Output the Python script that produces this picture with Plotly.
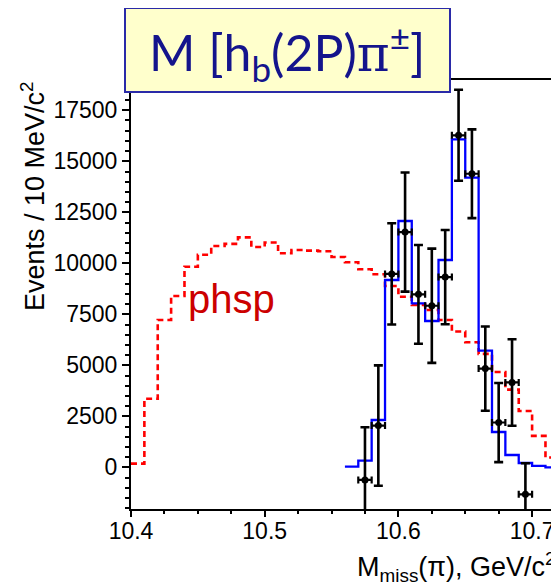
import plotly.graph_objects as go

# ---------------- data ----------------
phsp_edges_start = 10.40
bin_width = 0.01
phsp_values = [180, 3360, 7220, 8400, 9830, 10420, 10850, 10950, 11270, 10800,
               11020, 10490, 10650, 10620, 10590, 10310, 10050, 9706, 9460, 8890,
               8360, 7960, 7710, 7220, 6660, 6130, 5560, 4670, 3810, 2760,
               1540, 480]

fit_edges_start = 10.56
fit_values = [30, 323, 2318, 9181, 12074, 8039, 7172, 10162, 16078, 14196,
              5716, 1730, 603, 210, 70, 0]

data_x = [10.575, 10.585, 10.595, 10.605, 10.615, 10.625, 10.635, 10.645,
          10.655, 10.665, 10.675, 10.685, 10.695]
data_y = [-620, 2045, 9480, 11530, 8480, 7920, 9325, 16275, 14390, 4840,
          2195, 4160, -1324]
data_err = [2580, 2950, 2480, 2920, 2420, 2800, 2310, 2230, 2175, 2065,
            1940, 2120, 1520]

y_ticks = [0, 2500, 5000, 7500, 10000, 12500, 15000, 17500]
y_ticktext = [str(v) for v in y_ticks]
x_ticks = [10.4, 10.5, 10.6, 10.7]
x_ticktext = [f"{v:.1f}" for v in x_ticks]

# minor tick positions (axis decoration)
x_minor = [round(10.4 + 0.025 * i, 4) for i in range(0, 14)]
y_minor = [-2000 + 500 * i for i in range(0, 43)]

# ---------------- layout geometry (pixels) ----------------
# the page body has an 8px margin, so the figure starts at screen (8, 8)
OX, OY = 8, 8
W_FIG, H_FIG = 559 - OX, 585 - OY
L, R, T = 131 - OX, 0, 79 - OY
B = H_FIG - (509 - OY)
PW = W_FIG - L - R
PH = H_FIG - T - B

X_RANGE = [10.4, 10.4 + PW / 1337.0]
Y_RANGE = [-2044, 19034]


def pxx(sx):
    return (sx - OX - L) / PW


def pxy(sy):
    return (H_FIG - B - (sy - OY)) / PH


def step_xy(start, values):
    xs = [round(start + i * bin_width, 4) for i in range(len(values) + 1)]
    ys = list(values) + [values[-1]]
    return xs, ys


fig = go.Figure()

px_, py_ = step_xy(phsp_edges_start, phsp_values)
fig.add_trace(go.Scatter(x=px_, y=py_, mode="lines", line_shape="hv",
                         line=dict(color="#ff0000", width=2.6, dash="6px,4px"),
                         hoverinfo="skip", showlegend=False))

fx_, fy_ = step_xy(fit_edges_start, fit_values)
fx_[-1] = fx_[-1] + 0.02
fig.add_trace(go.Scatter(x=fx_, y=fy_, mode="lines", line_shape="hv",
                         line=dict(color="#0000ff", width=2.3),
                         hoverinfo="skip", showlegend=False))

fig.add_trace(go.Scatter(
    x=data_x, y=data_y, mode="markers",
    marker=dict(color="black", size=7, symbol="circle"),
    error_y=dict(type="data", array=data_err, visible=True,
                 color="black", thickness=2.6, width=4.5),
    error_x=dict(type="constant", value=0.005, visible=True,
                 color="black", thickness=2.2, width=3.5),
    showlegend=False))

axis_font = dict(family="Liberation Sans, Arial, sans-serif", size=23, color="black")

fig.update_layout(
    xaxis=dict(range=X_RANGE, tickvals=x_ticks, ticktext=x_ticktext,
               ticks="outside", ticklen=6, tickwidth=2, tickcolor="black",
               minor=dict(tickmode="array", tickvals=x_minor, ticks="outside",
                          ticklen=3, tickwidth=2, tickcolor="black"),
               showline=True, linewidth=2, linecolor="black",
               showgrid=False, zeroline=False, tickfont=axis_font,
               ticklabelstandoff=-6),
    yaxis=dict(range=Y_RANGE, tickvals=y_ticks, ticktext=y_ticktext,
               ticks="outside", ticklen=7, tickwidth=2, tickcolor="black",
               minor=dict(tickmode="array", tickvals=y_minor, ticks="outside",
                          ticklen=4, tickwidth=2, tickcolor="black"),
               showline=True, linewidth=2, linecolor="black",
               showgrid=False, zeroline=False, tickfont=axis_font),
)

shapes = [
    dict(type="line", xref="paper", yref="paper", x0=pxx(440), x1=1.0,
         y0=1.0, y1=1.0, line=dict(color="black", width=2)),
    dict(type="rect", xref="paper", yref="paper", x0=pxx(125), x1=pxx(450),
         y0=pxy(92), y1=pxy(8), fillcolor="#ffffcc",
         line=dict(color="#2a2aa8", width=2), layer="above"),
]

annotations = [
    dict(text="M [h<sub>b</sub>(2P)<span style='font-family:DejaVu Serif'>π</span><sup>±</sup>]",
         xref="paper", yref="paper", x=pxx(287), y=pxy(52),
         xanchor="center", yanchor="middle", showarrow=False,
         font=dict(family="Lato, Open Sans, sans-serif", size=50, color="#14148c")),
    dict(text="phsp", xref="paper", yref="paper", x=pxx(231), y=pxy(299),
         xanchor="center", yanchor="middle", showarrow=False,
         font=dict(family="Liberation Sans, Arial, sans-serif", size=40, color="#cc0000")),
    dict(text="Events / 10 MeV/c<sup>2</sup>", xref="paper", yref="paper",
         x=pxx(33), y=pxy(196), textangle=-90,
         xanchor="center", yanchor="middle", showarrow=False,
         font=dict(family="Liberation Sans, Arial, sans-serif", size=27, color="black")),
    dict(text="M<sub>miss</sub>(π), GeV/c<sup>2</sup>", xref="paper", yref="paper",
         x=pxx(558), y=pxy(567), xanchor="right", yanchor="middle", showarrow=False,
         font=dict(family="Liberation Sans, Arial, sans-serif", size=27, color="black")),
]

fig.update_layout(width=W_FIG, height=H_FIG, autosize=False,
                  margin=dict(l=L, r=R, t=T, b=B, pad=0),
                  paper_bgcolor="white", plot_bgcolor="white",
                  shapes=shapes, annotations=annotations, showlegend=False)

fig.write_html("out.html")
